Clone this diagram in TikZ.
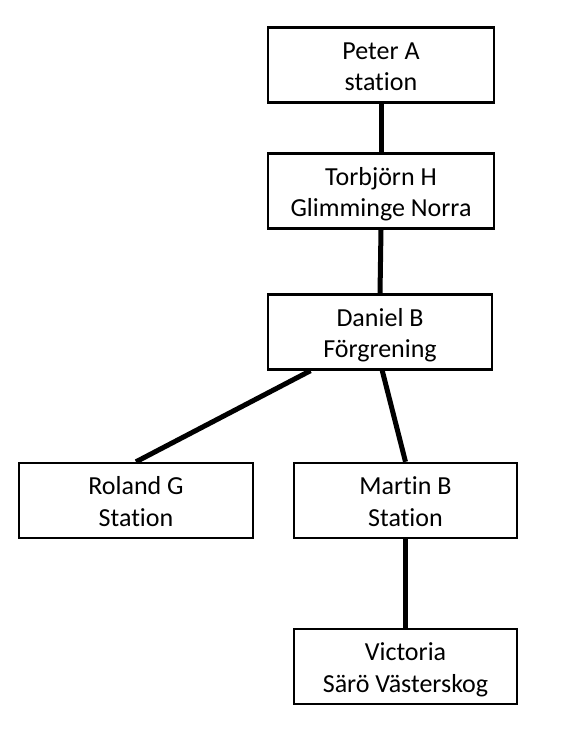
\documentclass[tikz,border=0pt]{standalone}
\usepackage{fontspec}
\setmainfont[Ligatures=CommonOff]{Carlito}
\usetikzlibrary{calc}
\newcommand{\twolines}[2]{\raisebox{-3.5pt}[\height][\depth]{\begin{tabular}{@{}c@{}}#1\\#2\end{tabular}}}
\begin{document}
\begin{tikzpicture}[x=1pt,y=-1pt,
  box/.style={draw=black,line width=2.4pt,fill=white,align=center,inner sep=0pt,
    font=\fontsize{26}{31.5}\selectfont,minimum height=75pt},
  link/.style={line width=5pt}]
\useasboundingbox (0,0) rectangle (565,733);
\node[box,minimum width=226pt] (peter) at (381,65) {\twolines{Peter A}{station}};
\node[box,minimum width=226pt] (torb) at (381,191) {\twolines{Torbjörn H}{Glimminge Norra}};
\node[box,minimum width=224pt] (daniel) at (380,332) {\twolines{Daniel B}{Förgrening}};
\node[box,minimum width=234pt] (roland) at (136,500.5) {\twolines{Roland G}{Station}};
\node[box,minimum width=223pt] (martin) at (405.5,500.5) {\twolines{Martin B}{Station}};
\node[box,minimum width=223pt] (victoria) at (405.5,666.5) {\twolines{Victoria}{Särö Västerskog}};
\draw[link] (peter.south) -- (torb.north);
\draw[link] (torb.south) -- (daniel.north);
\draw[link] ($(daniel.south west)!0.193!(daniel.south east)$) -- (roland.north);
\draw[link] ($(daniel.south west)!0.51!(daniel.south east)$) -- (martin.north);
\draw[link] (martin.south) -- (victoria.north);
\end{tikzpicture}
\end{document}
